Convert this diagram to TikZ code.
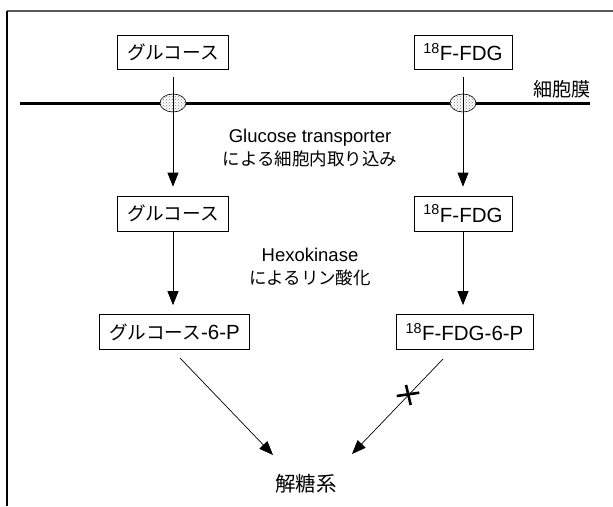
\documentclass[tikz,border=0pt]{standalone}
\usepackage{fontspec}
\setmainfont{Liberation Sans}
\newfontfamily\jp[Scale=0.91]{Noto Sans CJK JP}
\usetikzlibrary{arrows.meta,patterns,shapes.geometric}
\tikzset{
  box/.style={draw, line width=0.7pt, minimum height=35pt, inner xsep=9.5pt, font=\fontsize{20.5}{24}\selectfont},
  lbl/.style={font=\fontsize{18.5}{23}\selectfont, align=center},
  arr/.style={-{Triangle[length=14pt,width=11pt]}, line width=0.7pt},
  pore/.style={draw, ellipse, line width=0.6pt, minimum width=26pt, minimum height=18pt, inner sep=0pt,
    preaction={fill=white}, pattern=crosshatch dots, pattern color=gray},
}
\begin{document}
\begin{tikzpicture}[x=1pt,y=-1pt]
\useasboundingbox (0,0) rectangle (613,506);
% frame
\draw[gray!70!black, line width=1.2pt] (7,11) -- (613,11);
\draw[line width=1.2pt] (7,11) -- (7,506);
% membrane
\coordinate (m1) at (20,103);
\coordinate (m2) at (590,103);
\draw[line width=3pt] (m1) -- (m2);
\node[pore] (p1) at (173,103) {};
\node[pore] (p2) at (463,103) {};
\node[font=\fontsize{21}{24}\selectfont] (mem) at (562,89) {\jp 細胞膜};
% boxes
\node[box, minimum height=34pt] (a1) at (173,52) {\jp グルコース};
\node[box, minimum height=34pt] (b1) at (463,52) {\textsuperscript{18}F-FDG};
\node[box] (a2) at (173,213.5) {\jp グルコース};
\node[box] (b2) at (463,213.5) {\textsuperscript{18}F-FDG};
\node[box] (a3) at (174.5,332) {{\jp グルコース}-6-P};
\node[box] (b3) at (464.5,332) {\textsuperscript{18}F-FDG-6-P};
% labels
\node[lbl] (gt) at (310,148) {Glucose transporter\\{\jp\fontsize{19.2}{23}\selectfont による細胞内取り込み}};
\node[lbl] (hk) at (310,267) {Hexokinase\\{\jp\fontsize{19.2}{23}\selectfont によるリン酸化}};
\node[font=\fontsize{22.5}{26}\selectfont] (gly) at (306,484) {\jp 解糖系};
% arrows
\draw[arr, shorten <=8pt, shorten >=9pt] (a1.south) -- (a2.north);
\draw[arr, shorten <=8pt, shorten >=9pt] (b1.south) -- (b2.north);
\draw[arr, shorten >=9pt] (a2.south) -- (a2.south |- a3.north);
\draw[arr, shorten >=9pt] (b2.south) -- (b2.south |- b3.north);
\coordinate (d1s) at (180,358);
\coordinate (d1e) at (273,455);
\coordinate (d2s) at (443,359);
\coordinate (d2e) at (352,454);
\draw[arr] (d1s) -- (d1e);
\draw[arr] (d2s) -- (d2e);
% block mark
\draw[line width=2.6pt] (396.7,396) -- (419.3,392.7);
\draw[line width=2.6pt] (406,385) -- (410.7,405);
\end{tikzpicture}
\end{document}
